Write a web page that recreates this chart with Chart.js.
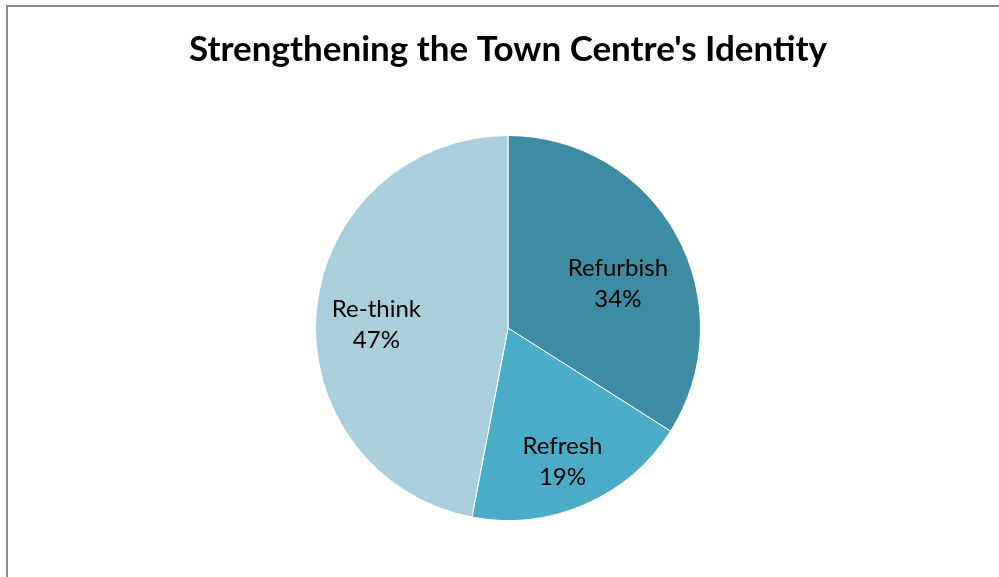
<!DOCTYPE html>
<html>
<head>
<meta charset="utf-8">
<script src="https://cdn.jsdelivr.net/npm/chart.js@4.4.1/dist/chart.umd.min.js"></script>
<style>
  html, body { margin: 0; padding: 0; background: #fff; }
  #wrap { position: relative; width: 999px; height: 577px; }
  #frame {
    position: absolute; left: 6px; top: 5px; right: -10px; bottom: -10px;
    border: 2px solid #8c8c8c; pointer-events: none;
  }
</style>
</head>
<body>
<div id="wrap">
  <canvas id="pieChart" width="999" height="577"></canvas>
  <div id="frame"></div>
</div>
<script>
// chart data
const categories = ["Refurbish", "Refresh", "Re-think"];
const shares = [34, 19, 47];
const sliceColors = ["#3d8ca3", "#4aacc6", "#a9cfdc"];
// label placement: fraction of radius, and angle nudge in degrees
const labelRadius = [0.617, 0.746, 0.684];
const labelShift = [6.5, 1.1, -3.7];

const fontName = "Lato, 'Open Sans', sans-serif";

// draws "Name\nNN%" inside each slice
const sliceLabels = {
  id: "sliceLabels",
  afterDatasetsDraw(chart) {
    const ctx = chart.ctx;
    const arcs = chart.getDatasetMeta(0).data;
    ctx.save();
    ctx.fillStyle = "#000";
    ctx.font = "24px " + fontName;
    ctx.textAlign = "center";
    ctx.textBaseline = "alphabetic";
    arcs.forEach(function (arc, i) {
      const p = arc.getProps(["x", "y", "startAngle", "endAngle", "outerRadius"], true);
      const mid = (p.startAngle + p.endAngle) / 2 + labelShift[i] * Math.PI / 180;
      const r = p.outerRadius * labelRadius[i];
      const x = p.x + Math.cos(mid) * r;
      const y = p.y + Math.sin(mid) * r;
      ctx.fillText(categories[i], x, y - 7);
      ctx.fillText(shares[i] + "%", x, y + 24);
    });
    ctx.restore();
  }
};

const ctx = document.getElementById("pieChart").getContext("2d");
const pieChart = new Chart(ctx, {
  type: "pie",
  data: {
    labels: categories,
    datasets: [
      {
        data: shares,
        backgroundColor: sliceColors,
        borderColor: "#ffffff",
        borderWidth: 1,
      },
    ],
  },
  options: {
    responsive: false,
    animation: false,
    layout: { padding: { left: 17, right: 0, top: 0, bottom: 56 } },
    plugins: {
      legend: { display: false },
      tooltip: { enabled: false },
      title: {
        display: true,
        text: "Strengthening the Town Centre's Identity",
        color: "#000",
        font: { family: fontName, size: 35, weight: "bold", lineHeight: 1.2 },
        padding: { top: 29, bottom: 64 },
      },
    },
  },
  plugins: [sliceLabels],
});
</script>
</body>
</html>
